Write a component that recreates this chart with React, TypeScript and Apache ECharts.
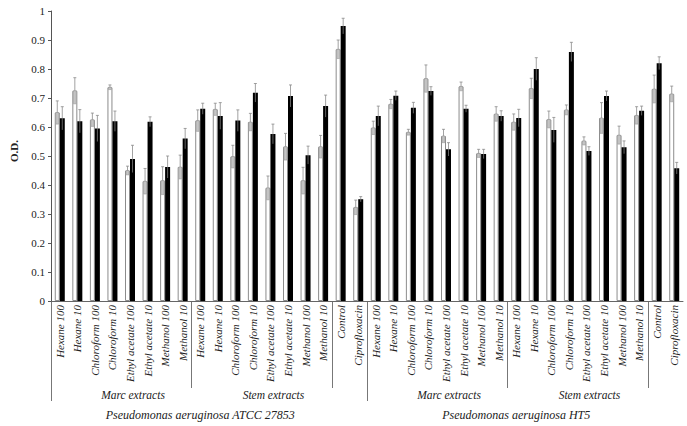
import React, { useEffect, useRef } from "react";
import * as echarts from "echarts";

const subLabels = [
  "Hexane 100", "Hexane 10", "Chloroform 100", "Chloroform 10",
  "Ethyl acetate 100", "Ethyl acetate 10", "Methanol 100", "Methanol 10",
];
const categories = [
  ...subLabels, ...subLabels, "Control", "Ciprofloxacin",
  ...subLabels, ...subLabels, "Control", "Ciprofloxacin",
];
const subGroups = ["Marc extracts", "Stem extracts", "Marc extracts", "Stem extracts"];
const subGroupStart = [0, 8, 18, 26];
const groups = ["Pseudomonas aeruginosa ATCC 27853", "Pseudomonas aeruginosa HT5"];
const groupStart = [0, 18];

// first (white) bars
const whiteValues = [
  0.65, 0.725, 0.625, 0.737, 0.45, 0.413, 0.415, 0.462,
  0.622, 0.661, 0.498, 0.617, 0.39, 0.532, 0.415, 0.532,
  0.868, 0.323,
  0.597, 0.679, 0.582, 0.767, 0.569, 0.74, 0.509, 0.645,
  0.617, 0.733, 0.626, 0.659, 0.552, 0.631, 0.572, 0.64,
  0.731, 0.714,
];
const whiteErrors = [
  0.04, 0.045, 0.023, 0.008, 0.015, 0.044, 0.048, 0.041,
  0.037, 0.021, 0.039, 0.03, 0.041, 0.046, 0.046, 0.039,
  0.032, 0.025,
  0.023, 0.016, 0.01, 0.047, 0.023, 0.015, 0.014, 0.025,
  0.028, 0.035, 0.029, 0.017, 0.014, 0.053, 0.031, 0.03,
  0.048, 0.027,
];
// second (black) bars
const blackValues = [
  0.63, 0.62, 0.595, 0.62, 0.49, 0.618, 0.462, 0.56,
  0.663, 0.638, 0.622, 0.718, 0.576, 0.707, 0.503, 0.672,
  0.948, 0.351,
  0.638, 0.708, 0.666, 0.724, 0.523, 0.663, 0.507, 0.638,
  0.631, 0.8, 0.59, 0.859, 0.517, 0.707, 0.53, 0.656,
  0.82, 0.458,
];
const blackErrors = [
  0.04, 0.04, 0.045, 0.035, 0.047, 0.017, 0.038, 0.035,
  0.019, 0.046, 0.037, 0.032, 0.034, 0.038, 0.031, 0.038,
  0.027, 0.009,
  0.034, 0.016, 0.019, 0.015, 0.023, 0.012, 0.016, 0.018,
  0.03, 0.039, 0.043, 0.033, 0.015, 0.017, 0.022, 0.016,
  0.022, 0.02,
];

const SERIF = "'Liberation Serif', 'DejaVu Serif', serif";
const BAR_W = 5;

function errorRender(side: number) {
  return (params: any, api: any) => {
    const x = api.value(0);
    const v = api.value(1);
    const e = api.value(2);
    const top = api.coord([x, v + e]);
    const mid = api.coord([x, v]);
    const bot = api.coord([x, v - e]);
    const cx = top[0] + side * (BAR_W / 2);
    const children: any[] = [];
    if (side < 0) {
      children.push({
        type: "rect",
        shape: { x: cx - 1.5, y: mid[1], width: 3, height: bot[1] - mid[1] },
        style: { fill: "#c4c4c4", stroke: "#9a9a9a", lineWidth: 0.6 },
      });
    } else {
      children.push({
        type: "line",
        shape: { x1: cx, y1: mid[1], x2: cx, y2: bot[1] },
        style: { stroke: "#7a7a7a", lineWidth: 0.8 },
      });
    }
    children.push({
      type: "line",
      shape: { x1: cx, y1: top[1], x2: cx, y2: mid[1] },
      style: { stroke: "#8a8a8a", lineWidth: 0.8 },
    });
    children.push({
      type: "line",
      shape: { x1: cx - 1.5, y1: top[1], x2: cx + 1.5, y2: top[1] },
      style: { stroke: "#8a8a8a", lineWidth: 0.8 },
    });
    return { type: "group", children };
  };
}

export default function App() {
  const ref = useRef<HTMLDivElement>(null);
  useEffect(() => {
    if (!ref.current) return;
    const chart = echarts.init(ref.current, null, { renderer: "svg" });
    chart.setOption({
      animation: false,
      grid: { left: 42, right: 4, top: 11, bottom: 125, containLabel: false },
      xAxis: {
        type: "category",
        data: categories,
        axisLine: { lineStyle: { color: "#666", width: 1 } },
        axisTick: { show: false },
        axisLabel: {
          rotate: 90,
          interval: 0,
          margin: 4,
          fontFamily: SERIF,
          fontStyle: "italic",
          fontSize: 11,
          color: "#222",
        },
      },
      yAxis: {
        type: "value",
        min: 0,
        max: 1,
        interval: 0.1,
        name: "O.D.",
        nameLocation: "middle",
        nameGap: 32,
        nameRotate: 90,
        nameTextStyle: { fontFamily: SERIF, fontWeight: "bold", fontSize: 11, color: "#222", padding: [0, 0, 0, 10] },
        axisLine: { show: true, lineStyle: { color: "#555" } },
        axisTick: { show: true, length: 3, lineStyle: { color: "#555" } },
        axisLabel: { fontFamily: SERIF, fontSize: 11, color: "#222", margin: 6 },
        splitLine: { show: false },
      },
      series: [
        {
          type: "bar",
          data: whiteValues,
          barWidth: BAR_W,
          barGap: "0%",
          itemStyle: { color: "#ffffff", borderColor: "#8c8c8c", borderWidth: 1 },
        },
        {
          type: "bar",
          data: blackValues,
          barWidth: BAR_W,
          barGap: "0%",
          itemStyle: { color: "#000000" },
        },
        {
          type: "custom",
          renderItem: errorRender(-1),
          data: whiteValues.map((v, i) => [i, v, whiteErrors[i]]),
          encode: { x: 0, y: 1 },
          z: 5,
        },
        {
          type: "custom",
          renderItem: errorRender(1),
          data: blackValues.map((v, i) => [i, v, blackErrors[i]]),
          encode: { x: 0, y: 1 },
          z: 5,
        },
      ],
    });

    const px = (i: number) => chart.convertToPixel({ xAxisIndex: 0 }, i) as number;
    const y0 = chart.convertToPixel({ yAxisIndex: 0 }, 0) as number;
    const band = px(1) - px(0);
    const leftEdge = (i: number) => px(i) - band / 2;
    const graphics: any[] = [];
    const vline = (x: number, len: number) => ({
      type: "line",
      shape: { x1: x, y1: y0, x2: x, y2: y0 + len },
      style: { stroke: "#777", lineWidth: 1 },
      silent: true,
    });
    groupStart.forEach((s) => graphics.push(vline(Math.round(leftEdge(s)) + 0.5, 100)));
    [8, 16, 26, 34].forEach((s) => graphics.push(vline(Math.round(leftEdge(s)) + 0.5, 87)));
    subGroups.forEach((name, k) => {
      const s = subGroupStart[k];
      graphics.push({
        type: "text",
        x: px(s + 4) + 3,
        y: y0 + 94,
        style: {
          text: name,
          fontFamily: SERIF,
          fontStyle: "italic",
          fontSize: 11.5,
          fill: "#222",
          align: "center",
          verticalAlign: "middle",
        },
        silent: true,
      });
    });
    groups.forEach((name, k) => {
      const s = groupStart[k];
      graphics.push({
        type: "text",
        x: px(s + 8),
        y: y0 + 114,
        style: {
          text: name,
          fontFamily: SERIF,
          fontStyle: "italic",
          fontSize: 12,
          fill: "#222",
          align: "center",
          verticalAlign: "middle",
        },
        silent: true,
      });
    });
    chart.setOption({ graphic: graphics });

    return () => chart.dispose();
  }, []);
  return (
    <div
      ref={ref}
      style={{ position: "fixed", left: 0, top: 0, width: 687, height: 426, background: "#fff" }}
    />
  );
}
